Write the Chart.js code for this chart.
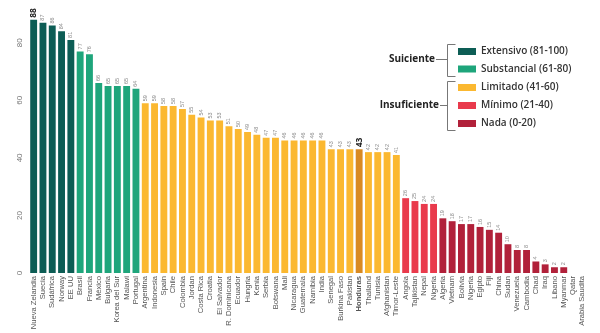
<!DOCTYPE html>
<html>
<head>
<meta charset="utf-8">
<script src="https://cdn.jsdelivr.net/npm/chart.js@4.4.1/dist/chart.umd.min.js"></script>
<style>
  html, body { margin: 0; padding: 0; background: #ffffff; }
  #wrap { width: 600px; height: 333px; position: relative; }
  canvas { display: block; }
</style>
</head>
<body>
<div id="wrap"><canvas id="chart" width="600" height="333"></canvas></div>
<script>
// Country scores (0-100)
const countries = [
  'Nueva Zelandia', 'Suecia', 'Sudáfrica', 'Norway', 'EE UU',
  'Brasil', 'Francia', 'México', 'Bulgaria', 'Korea del Sur', 'Malawi', 'Portugal',
  'Argentina', 'Indonesia', 'Spain', 'Chile', 'Colombia', 'Jordan', 'Costa Rica', 'Croatia',
  'El Salvador', 'R. Dominicana', 'Ecuador', 'Hungria', 'Kenia', 'Serbia', 'Botswana', 'Mali',
  'Nicaragua', 'Guatemala', 'Namibia', 'India', 'Senegal', 'Burkina Faso', 'Pakistan',
  'Honduras', 'Thailand', 'Tunisia', 'Afghanistan', 'Timor-Leste',
  'Angola', 'Tajikistan', 'Nepal', 'Nigeria',
  'Algeria', 'Vietnam', 'Bolivia', 'Nigeria', 'Egipto', 'Fiji', 'China', 'Sudan',
  'Venezuela', 'Cambodia', 'Chad', 'Iraq', 'Libano', 'Myanmar', 'Qatar', 'Arabia Saudita'
];
const scores = [
  88, 87, 86, 84, 81,
  77, 76, 66, 65, 65, 65, 64,
  59, 59, 58, 58, 57, 55, 54, 53,
  53, 51, 50, 49, 48, 47, 47, 46,
  46, 46, 46, 46, 43, 43, 43,
  43, 42, 42, 42, 41,
  26, 25, 24, 24,
  19, 18, 17, 17, 16, 15, 14, 10,
  8, 8, 4, 3, 2, 2, 0, 0
];
const highlighted = ['Nueva Zelandia', 'Honduras'];
const yTicks = [0, 20, 40, 60, 80];

// Rating bands
const bandNames = ['Extensivo (81-100)', 'Substancial (61-80)', 'Limitado (41-60)', 'Mínimo (21-40)', 'Nada (0-20)'];
const bandMins = [81, 61, 41, 21, 0];
const bandColors = ['#0d5d55', '#1ea57b', '#fbb830', '#e93a4c', '#b1213a'];
const groupNames = ['Suiciente', 'Insuficiente'];
const hondurasColor = '#d98a22';

function bandIndex(v) {
  for (let i = 0; i < bandMins.length; i++) if (v >= bandMins[i]) return i;
  return bandMins.length - 1;
}
const barColors = scores.map((v, i) =>
  countries[i] === 'Honduras' ? hondurasColor : bandColors[bandIndex(v)]);

const FONT = "'Liberation Sans Narrow', 'Liberation Sans', Arial, sans-serif";

// Rotated value labels above each bar
const valueLabels = {
  id: 'valueLabels',
  afterDatasetsDraw(chart) {
    const ctx = chart.ctx;
    const meta = chart.getDatasetMeta(0);
    meta.data.forEach((bar, i) => {
      const v = scores[i];
      if (!v) return;
      const strong = highlighted.includes(countries[i]);
      ctx.save();
      ctx.translate(bar.x, bar.y - 2);
      ctx.rotate(-Math.PI / 2);
      ctx.textAlign = 'left';
      ctx.textBaseline = 'middle';
      ctx.font = strong ? "bold 8.5px 'Open Sans', sans-serif" : "5.5px " + FONT;
      ctx.fillStyle = strong ? '#222222' : '#8a8a8a';
      ctx.fillText(String(v), 0, 0);
      ctx.restore();
    });
  }
};

// Rotated y-axis numbers
const yLabels = {
  id: 'yLabels',
  afterDraw(chart) {
    const ctx = chart.ctx;
    const y = chart.scales.y;
    ctx.save();
    ctx.font = "8px " + FONT;
    ctx.fillStyle = '#777777';
    ctx.textAlign = 'center';
    ctx.textBaseline = 'middle';
    yTicks.forEach(t => {
      ctx.save();
      ctx.translate(20, y.getPixelForValue(t));
      ctx.rotate(-Math.PI / 2);
      ctx.fillText(String(t), 0, 0);
      ctx.restore();
    });
    ctx.restore();
  }
};

// Grouped legend with brackets
const bandLegend = {
  id: 'bandLegend',
  afterDraw(chart) {
    const ctx = chart.ctx;
    const swX = 458, swW = 18, swH = 7, txtX = 481;
    const rowY = [51.5, 69, 87.5, 105.5, 123.5];
    ctx.save();
    ctx.textBaseline = 'middle';
    ctx.textAlign = 'left';
    bandNames.forEach((n, i) => {
      ctx.fillStyle = bandColors[i];
      ctx.fillRect(swX, rowY[i] - swH / 2, swW, swH);
      ctx.fillStyle = '#333333';
      ctx.font = "600 10px 'Open Sans', sans-serif";
      ctx.fillText(n, txtX, rowY[i]);
    });
    // brackets
    ctx.strokeStyle = '#777777';
    ctx.lineWidth = 1;
    const brackets = [
      { top: 44, bottom: 76, mid: 59, labelX: 435 },
      { top: 81, bottom: 130, mid: 105, labelX: 439 }
    ];
    const bx = 447.5;
    brackets.forEach((b, i) => {
      ctx.beginPath();
      ctx.moveTo(bx + 8, b.top + 0.5);
      ctx.lineTo(bx, b.top + 0.5);
      ctx.lineTo(bx, b.bottom + 0.5);
      ctx.lineTo(bx + 8, b.bottom + 0.5);
      ctx.moveTo(bx, b.mid + 0.5);
      ctx.lineTo(b.labelX + 1, b.mid + 0.5);
      ctx.stroke();
      ctx.fillStyle = '#222222';
      ctx.font = "bold 10px 'Open Sans', sans-serif";
      ctx.textAlign = 'right';
      ctx.fillText(groupNames[i], b.labelX, b.mid);
    });
    ctx.restore();
  }
};

new Chart(document.getElementById('chart'), {
  type: 'bar',
  data: {
    labels: countries,
    datasets: [{
      data: scores,
      backgroundColor: barColors,
      borderWidth: 0,
      barPercentage: 0.74,
      categoryPercentage: 1.0
    }]
  },
  options: {
    responsive: false,
    animation: false,
    devicePixelRatio: 1,
    layout: { padding: { left: 29, right: 13, top: 14, bottom: 0 } },
    plugins: { legend: { display: false }, tooltip: { enabled: false } },
    scales: {
      x: {
        grid: { display: false, drawTicks: false },
        border: { display: false },
        afterFit(scale) { scale.height = 60; },
        ticks: {
          autoSkip: false,
          minRotation: 90,
          maxRotation: 90,
          padding: 3,
          color: '#555555',
          font: (c) => ({
            family: FONT,
            size: 7.6,
            weight: (c.tick && c.tick.label === 'Honduras') ? 'bold' : 'normal'
          })
        }
      },
      y: {
        display: false,
        min: 0,
        max: 90,
        afterBuildTicks(scale) { scale.ticks = yTicks.map(v => ({ value: v })); }
      }
    }
  },
  plugins: [valueLabels, yLabels, bandLegend]
});
</script>
</body>
</html>
